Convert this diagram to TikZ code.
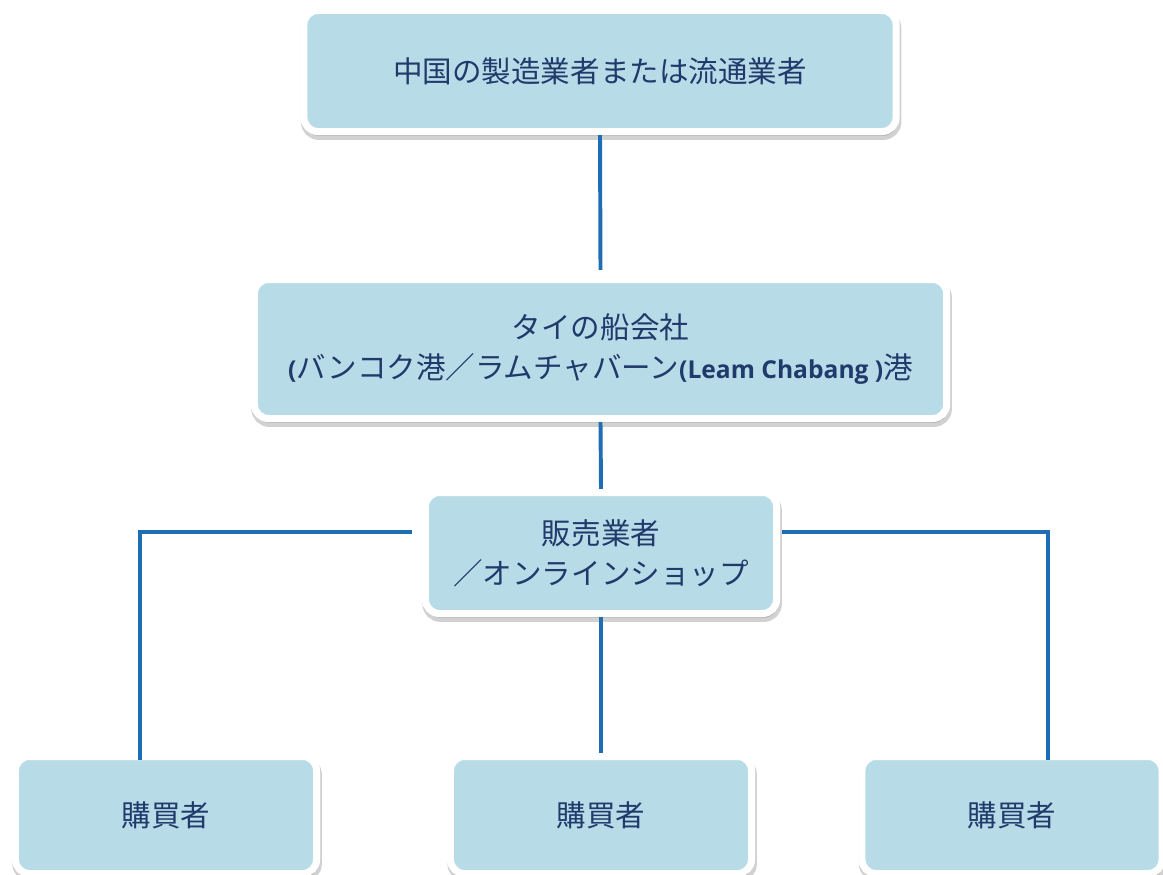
\documentclass[tikz,border=0pt]{standalone}
\usepackage{fontspec}
\setmainfont{Noto Sans CJK JP}
\newfontfamily\latfont{Open Sans}
\usetikzlibrary{shadows}
\definecolor{boxblue}{HTML}{B7DCE7}
\definecolor{linkblue}{HTML}{1F6DB5}
\definecolor{textnavy}{HTML}{1F3A6B}

\begin{document}
\begin{tikzpicture}[x=0.025cm, y=-0.025cm,
  box/.style={draw=white, line width=5pt, fill=boxblue, rounded corners=0.35cm,
    text=textnavy, align=center, inner sep=0pt,
    font=\fontsize{21pt}{28.5pt}\selectfont,
    drop shadow={shadow xshift=0.8pt, shadow yshift=-3pt, opacity=0.18,
      fill=black, draw=black, line width=6pt}},
  link/.style={draw=linkblue, line width=2.8pt}]

  % --- 0. 画像の範囲 ---
  \useasboundingbox (0,0) rectangle (1163,874);

  % --- 1. 上段：製造業者・船会社 ---
  \node[box, minimum width=14.8cm, minimum height=3.025cm] (maker) at (600,71)
    {中国の製造業者または流通業者};
  \node[box, minimum width=17.3cm, minimum height=3.475cm] (ship) at (600.5,349)
    {タイの船会社\\{\latfont\bfseries\fontsize{17.5pt}{28.5pt}\selectfont(}バンコク港／ラムチャバーン{\latfont\bfseries\fontsize{17.5pt}{28.5pt}\selectfont(Leam Chabang )}港};

  % --- 2. 中段：販売業者 ---
  \node[box, minimum width=8.775cm, minimum height=3.025cm] (seller) at (601,553)
    {販売業者\\／オンラインショップ};

  % --- 3. 下段：購買者（3 つ） ---
  \node[box, minimum width=7.525cm, minimum height=2.925cm] (buyerL) at (166,815) {購買者};
  \node[box, minimum width=7.525cm, minimum height=2.925cm] (buyerM) at (601,815) {購買者};
  \node[box, minimum width=7.5cm, minimum height=2.925cm] (buyerR) at (1012,815) {購買者};

  % --- 4. 接続線 ---
  \draw[link] (maker.south) -- ([yshift=0.15cm]ship.north);
  \draw[link] (ship.south) -- (seller.north);
  \draw[link] (seller.south) -- (buyerM.north);
  % 左右への枝分かれ
  \draw[link] ([xshift=-0.25cm, yshift=0.525cm]seller.west)
    -| ([xshift=-0.65cm, yshift=-0.18cm]buyerL.north);
  \draw[link] ([xshift=0.05cm, yshift=0.525cm]seller.east)
    -| ([xshift=0.9cm, yshift=-0.18cm]buyerR.north);

\end{tikzpicture}
\end{document}
